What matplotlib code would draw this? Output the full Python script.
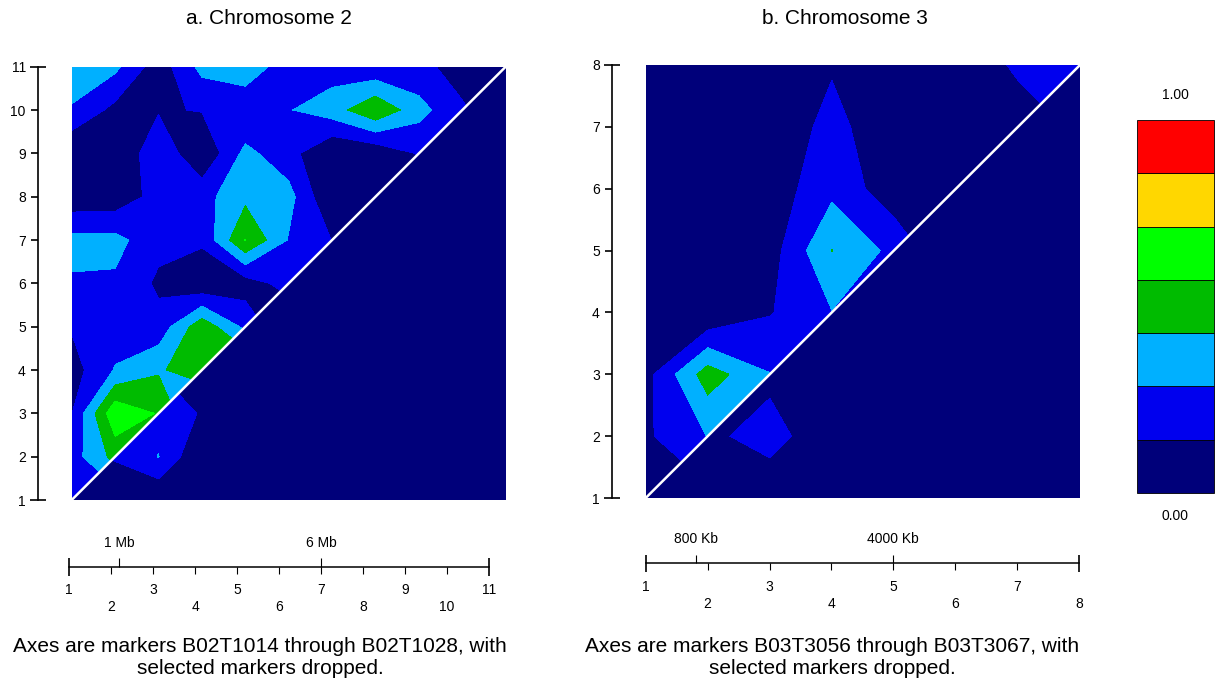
import numpy as np
import matplotlib
matplotlib.use('Agg')
import matplotlib.pyplot as plt
from matplotlib.patches import Polygon, Rectangle

plt.rcParams['font.family'] = ['Liberation Sans', 'DejaVu Sans']

W, H = 1218, 686  # output size in px

# LD colour scale, 7 bins between 0 and 1
ld_levels = np.linspace(0, 1, 8)
ld_colours = ['#00007a', '#0000ee', '#00b0ff', '#00bb00', '#00ff00', '#ffd700', '#ff0000']

# Chromosome 2 (11 markers)
# rows go from marker 11 (top) down to marker 1, columns are markers 1..11
chr2_upper = [
    [0.38, 0.32, 0.06, 0.33, 0.40, 0.185, 0.218, 0.17, 0.18, 0.087, 0.00],
    [0.27, 0.10, 0.13, 0.15, 0.145, 0.278, 0.36, 0.55, 0.338, 0.16, 0.05],
    [0.00, 0.00, 0.255, 0.012, 0.326, 0.194, 0.00, 0.03, 0.155, 0.10, 0.00],
    [0.04, 0.045, 0.20, 0.235, 0.39, 0.337, 0.00, 0.02, 0.00, 0.00, 0.00],
    [0.33, 0.332, 0.185, 0.17, 0.575, 0.275, 0.14, 0.00, 0.00, 0.00, 0.00],
    [0.27, 0.262, 0.117, 0.022, 0.07, 0.20, 0.10, 0.00, 0.00, 0.00, 0.00],
    [0.155, 0.22, 0.192, 0.524, 0.25, 0.00, 0.00, 0.00, 0.00, 0.00, 0.00],
    [0.08, 0.295, 0.411, 0.51, 0.60, 0.00, 0.00, 0.00, 0.00, 0.00, 0.00],
    [0.137, 0.68, 0.56, 0.22, 0.00, 0.00, 0.00, 0.00, 0.00, 0.00, 0.00],
    [0.22, 0.474, 0.45, 0.00, 0.00, 0.00, 0.00, 0.00, 0.00, 0.00, 0.00],
    [0.20, 0.20, 0.00, 0.00, 0.00, 0.00, 0.00, 0.00, 0.00, 0.00, 0.00],
]
chr2_lower = [
    [0, 0, 0, 0, 0, 0, 0, 0, 0, 0, 0],
    [0, 0, 0, 0, 0, 0, 0, 0, 0, 0, 0],
    [0, 0, 0, 0, 0, 0, 0, 0, 0, 0, 0],
    [0, 0, 0, 0, 0, 0, 0, 0, 0, 0, 0],
    [0, 0, 0, 0, 0, 0, 0, 0, 0, 0, 0],
    [0, 0, 0, 0, 0, 0, 0, 0, 0, 0, 0],
    [0, 0, 0, 0, 0, 0, 0, 0, 0, 0, 0],
    [0, 0, 0.135, 0.10, 0, 0, 0, 0, 0, 0, 0],
    [0, 0, 0.24, 0.13, 0, 0, 0, 0, 0, 0, 0],
    [0, 0.16, 0.29, 0, 0, 0, 0, 0, 0, 0, 0],
    [0, 0, 0, 0, 0, 0, 0, 0, 0, 0, 0],
]
chr2_phys_at = [2.2, 7.0]
chr2_phys_lab = ['1 Mb', '6 Mb']
chr2_title = 'a. Chromosome 2'
chr2_caption = 'Axes are markers B02T1014 through B02T1028, with\nselected markers dropped.'

# Chromosome 3 (8 markers), same layout
chr3_upper = [
    [0.05, 0.03, 0.03, 0.13, 0.05, 0.02, 0.17, 0.20],
    [0.05, 0.03, 0.05, 0.183, 0.05, 0.03, 0.06, 0.17],
    [0.05, 0.03, 0.06, 0.245, 0.056, 0.05, 0.00, 0.00],
    [0.05, 0.03, 0.076, 0.432, 0.245, 0.00, 0.00, 0.00],
    [0.05, 0.00, 0.133, 0.28, 0.10, 0.00, 0.00, 0.00],
    [0.09, 0.50, 0.29, 0.10, 0.00, 0.00, 0.00, 0.00],
    [0.12, 0.29, 0.30, 0.00, 0.00, 0.00, 0.00, 0.00],
    [0.05, 0.10, 0.00, 0.00, 0.00, 0.00, 0.00, 0.00],
]
chr3_lower = [
    [0, 0, 0, 0, 0, 0, 0, 0],
    [0, 0, 0, 0, 0, 0, 0, 0],
    [0, 0, 0, 0, 0, 0, 0, 0],
    [0, 0, 0, 0, 0, 0, 0, 0],
    [0, 0, 0, 0, 0, 0, 0, 0],
    [0, 0, 0.094, 0, 0, 0, 0, 0],
    [0, 0.10, 0.22, 0, 0, 0, 0, 0],
    [0, 0, 0, 0, 0, 0, 0, 0],
]
chr3_phys_at = [1.81, 5.0]
chr3_phys_lab = ['800 Kb', '4000 Kb']
chr3_title = 'b. Chromosome 3'
chr3_caption = 'Axes are markers B03T3056 through B03T3067, with\nselected markers dropped.'

fig = plt.figure(figsize=(W / 100, H / 100), dpi=100)


def px_axes(x0, y0, x1, y1):
    # axes placed by pixel box (top-left origin)
    return fig.add_axes([x0 / W, 1 - y1 / H, (x1 - x0) / W, (y1 - y0) / H])


def ld_map(box, upper, lower):
    n = len(upper)
    grid = np.arange(1, n + 1)
    ax = px_axes(*box)
    ax.set_facecolor(ld_colours[0])
    halves = [(upper, [(1, 1), (1, n), (n, n)]), (lower, [(1, 1), (n, 1), (n, n)])]
    for vals, tri in halves:
        cs = ax.contourf(grid, grid, np.flipud(np.array(vals, dtype=float)),
                         levels=ld_levels, colors=ld_colours)
        cs.set_clip_path(Polygon(tri, closed=True, transform=ax.transData))
    ax.plot([1, n], [1, n], color='white', lw=1.8, solid_capstyle='butt')
    ax.set_xlim(1, n)
    ax.set_ylim(1, n)
    for s in ['top', 'right', 'bottom']:
        ax.spines[s].set_visible(False)
    ax.spines['left'].set_position(('outward', 24))
    ax.spines['left'].set_linewidth(1.2)
    ax.set_xticks([])
    ax.set_yticks(range(2, n))
    ax.set_yticklabels([str(k) for k in range(2, n)])
    ax.set_yticks([1, n], minor=True)
    ax.set_yticklabels(['1', str(n)], minor=True)
    ax.tick_params(axis='y', which='major', direction='out', length=5, width=1.2, pad=4, labelsize=10)
    ax.tick_params(axis='y', which='minor', direction='inout', length=11, width=1.2, pad=3.5, labelsize=10)
    return ax


def marker_scale(x0, x1, n, line_y, phys_at, phys_lab):
    ax = px_axes(x0, 525, x1, 625)
    ax.set_xlim(1, n)
    ax.set_ylim(625, 525)  # y in pixels
    ax.axis('off')
    ax.plot([1, n], [line_y, line_y], color='k', lw=1.1, clip_on=False)
    ax.vlines([1, n], line_y - 8.5, line_y + 9, color='k', lw=1.2, clip_on=False)
    ax.vlines(range(2, n), line_y, line_y + 7, color='k', lw=0.8, clip_on=False)
    ax.vlines(phys_at, line_y - 8.5, line_y, color='k', lw=0.8, clip_on=False)
    for k in range(1, n + 1):
        ax.text(k, line_y + (23.5 if k % 2 else 40.5), str(k), ha='center', va='center', fontsize=10)
    for at, lab in zip(phys_at, phys_lab):
        ax.text(at, line_y - 24, lab, ha='center', va='center', fontsize=10)


ld_map((71.7, 66.7, 505.7, 500), chr2_upper, chr2_lower)
ld_map((645.7, 65, 1080, 498), chr3_upper, chr3_lower)
marker_scale(69, 489, 11, 566.7, chr2_phys_at, chr2_phys_lab)
marker_scale(645.7, 1079, 8, 563.3, chr3_phys_at, chr3_phys_lab)

# colour key
cb = px_axes(1137, 120, 1214, 493)
cb.set_xlim(0, 1)
cb.set_ylim(0, 7)
for k, c in enumerate(ld_colours):
    cb.add_patch(Rectangle((0, k), 1, 1, facecolor=c, edgecolor='black', lw=0.6, clip_on=False))
cb.axis('off')
fig.text(1175 / W, 1 - 95 / H, '1.00', ha='center', va='center', fontsize=10)
fig.text(1175 / W, 1 - 516 / H, '0.00', ha='center', va='center', fontsize=10)

fig.text(269 / W, 1 - 19 / H, chr2_title, ha='center', va='center', fontsize=15)
fig.text(845 / W, 1 - 19 / H, chr3_title, ha='center', va='center', fontsize=15)
fig.text(260 / W, 1 - 657 / H, chr2_caption, ha='center', va='center', fontsize=15, linespacing=1.2)
fig.text(832 / W, 1 - 657 / H, chr3_caption, ha='center', va='center', fontsize=15, linespacing=1.2)

fig.savefig('out.png', dpi=100)
